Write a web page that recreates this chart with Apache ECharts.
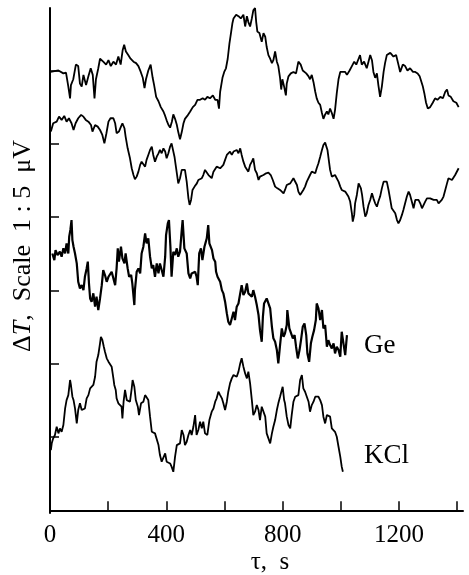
<!DOCTYPE html>
<html><head><meta charset="utf-8">
<script src="https://cdn.jsdelivr.net/npm/echarts@6/dist/echarts.min.js"></script>
<style>html,body{margin:0;padding:0;background:#fff}#c{width:469px;height:575px}</style>
</head><body><div id="c"></div>
<script>
// time, s  |  ΔT, μV (arbitrary offsets, scale 5 μV per tick)
const xTicks = [0, 200, 400, 600, 800, 1000, 1200, 1400];
const xLabels = [0, 400, 800, 1200];
const yTicks = [5, 10, 15, 20, 25, 30];

const trace1 = [[2,29.9],[29,30.0],[46,29.8],[55,29.85],[63,28.9],[69,28.1],[72,29.0],[80,29.4],[89,30.4],[97,30.3],[103,29.1],[109,28.9],[115,29.7],[124,29.0],[132,29.6],[140,30.15],[147,29.7],[153,28.1],[158,29.4],[166,30.15],[172,30.8],[183,30.6],[193,30.4],[201,30.7],[209,30.3],[218,30.6],[227,30.4],[235,30.95],[243,30.4],[250,31.4],[255,31.75],[261,31.3],[269,31.05],[277,30.8],[287,30.6],[296,30.5],[304,30.3],[312,29.9],[319,29.5],[325,28.8],[330,29.4],[338,30.0],[346,30.4],[353,29.5],[358,29.0],[365,28.2],[373,27.9],[381,27.5],[390,27.2],[396,26.9],[401,26.6],[407,26.3],[413,26.1],[419,26.5],[424,27.0],[430,26.7],[436,26.3],[441,25.8],[447,25.3],[453,25.8],[459,26.4],[464,26.7],[472,26.9],[482,27.2],[491,27.5],[499,27.65],[507,28.0],[516,28.0],[525,28.1],[533,28.0],[541,28.2],[550,28.1],[560,28.3],[568,28.0],[576,28.0],[581,27.4],[585,28.55],[593,29.5],[599,29.9],[605,30.15],[611,30.8],[617,31.85],[623,32.65],[627,33.2],[631,33.55],[640,33.8],[648,33.7],[656,33.55],[665,33.8],[671,33.0],[677,33.7],[682,33.3],[688,33.0],[694,33.55],[699,34.1],[705,34.25],[709,33.3],[713,32.65],[720,32.55],[728,31.95],[734,32.55],[740,32.3],[745,31.6],[751,31.05],[757,30.8],[763,30.5],[768,30.7],[774,31.3],[780,30.6],[785,30.3],[791,29.5],[795,28.7],[799,29.4],[805,28.9],[811,28.3],[814,29.1],[820,29.6],[828,29.8],[837,29.9],[846,29.8],[854,30.6],[862,30.4],[869,30.0],[874,29.9],[881,29.8],[889,29.6],[894,29.4],[900,29.7],[906,29.2],[912,28.55],[917,28.1],[923,27.8],[929,27.65],[935,27.1],[940,26.7],[946,27.0],[952,27.2],[957,27.0],[963,27.4],[969,27.1],[975,26.7],[980,27.3],[986,28.45],[992,29.4],[998,29.9],[1003,29.8],[1015,29.9],[1021,29.7],[1030,30.0],[1038,30.3],[1046,30.6],[1053,30.4],[1061,30.8],[1066,31.05],[1072,30.4],[1080,30.6],[1089,30.15],[1095,30.6],[1101,31.05],[1107,30.7],[1112,29.9],[1118,29.5],[1124,29.8],[1129,29.0],[1135,28.2],[1141,28.9],[1147,29.9],[1152,30.5],[1158,31.05],[1170,31.2],[1181,30.95],[1190,31.05],[1198,30.4],[1204,29.9],[1213,30.4],[1221,30.3],[1229,30.0],[1238,30.15],[1248,29.9],[1256,29.9],[1264,29.8],[1271,29.6],[1275,29.7],[1282,28.9],[1287,28.45],[1293,27.8],[1299,27.4],[1307,27.5],[1316,27.8],[1324,28.1],[1332,28.0],[1342,28.2],[1351,28.1],[1359,28.55],[1365,28.7],[1370,28.3],[1378,28.2],[1387,27.9],[1397,27.8],[1405,27.5]];

const trace2 = [[3,25.83],[11,26.4],[23,26.51],[31,26.85],[40,26.63],[49,26.9],[57,26.51],[65,26.74],[74,26.4],[81,25.94],[88,26.4],[97,26.74],[107,26.97],[115,26.85],[123,26.63],[132,26.51],[141,26.28],[146,25.83],[155,26.28],[164,26.17],[172,25.94],[180,25.6],[187,25.03],[194,25.72],[201,26.51],[208,26.74],[218,26.74],[224,26.4],[229,25.72],[237,25.83],[244,26.17],[249,26.4],[256,26.06],[260,25.49],[267,24.69],[275,24.01],[281,23.33],[287,22.87],[292,22.58],[298,22.76],[304,23.1],[310,23.56],[315,23.78],[321,23.67],[327,23.44],[332,23.9],[338,24.24],[344,24.58],[350,24.81],[355,24.24],[361,23.78],[367,24.12],[373,24.35],[378,24.58],[384,24.35],[390,24.69],[396,24.47],[401,24.01],[407,24.35],[413,24.81],[418,25.03],[424,24.92],[428,24.12],[432,23.56],[437,22.87],[441,22.3],[447,22.65],[453,23.22],[459,23.33],[464,23.22],[470,22.42],[476,21.28],[480,20.83],[485,21.17],[490,21.85],[497,22.08],[505,22.3],[510,22.53],[516,22.42],[522,22.65],[527,22.87],[533,23.22],[539,23.1],[545,22.87],[550,22.76],[556,22.65],[562,23.1],[567,23.22],[573,23.44],[579,23.56],[585,23.33],[590,23.44],[596,23.56],[602,23.9],[608,24.24],[613,24.35],[619,24.47],[625,24.24],[631,24.47],[636,24.47],[642,24.58],[648,24.35],[654,24.69],[659,24.24],[665,23.78],[671,23.44],[676,23.33],[682,23.1],[688,23.56],[694,23.78],[699,24.01],[705,23.22],[711,22.99],[717,22.53],[722,22.76],[728,22.65],[734,22.87],[743,22.99],[751,23.03],[759,22.87],[766,22.53],[774,22.08],[782,21.96],[791,21.85],[797,21.74],[803,21.62],[808,21.85],[814,22.19],[820,22.08],[826,22.3],[831,22.42],[837,22.65],[843,22.53],[849,22.19],[854,21.74],[860,21.51],[866,21.62],[871,21.85],[877,22.08],[883,22.42],[889,22.53],[894,22.87],[900,23.1],[906,23.22],[912,22.99],[917,23.33],[923,23.67],[929,24.12],[935,24.58],[940,24.92],[946,25.08],[949,25.03],[954,24.58],[957,24.12],[963,23.22],[969,22.76],[975,22.65],[980,22.87],[986,22.76],[992,22.42],[998,22.08],[1003,21.85],[1009,21.96],[1015,21.74],[1021,21.85],[1026,21.4],[1032,21.06],[1038,20.26],[1041,19.69],[1046,20.15],[1049,20.94],[1055,21.51],[1061,22.3],[1064,22.42],[1069,21.96],[1073,21.51],[1078,20.71],[1084,20.03],[1089,20.26],[1095,20.83],[1101,21.17],[1107,21.62],[1112,21.28],[1118,20.94],[1124,20.71],[1129,21.06],[1135,21.4],[1141,21.96],[1147,22.42],[1152,22.53],[1158,22.42],[1164,21.85],[1170,21.17],[1175,20.6],[1181,20.49],[1187,20.26],[1193,19.8],[1198,19.58],[1204,19.8],[1210,20.15],[1215,20.49],[1221,20.94],[1227,21.4],[1233,21.74],[1238,21.51],[1244,21.06],[1250,20.6],[1256,21.17],[1261,21.28],[1267,21.17],[1273,20.94],[1279,20.6],[1284,20.71],[1290,21.06],[1296,21.28],[1301,21.4],[1307,21.28],[1313,21.17],[1319,21.17],[1324,21.28],[1330,21.17],[1336,20.94],[1342,21.06],[1347,21.17],[1353,21.4],[1359,21.85],[1365,22.3],[1370,22.65],[1376,22.76],[1382,22.53],[1387,22.65],[1393,22.87],[1399,22.99],[1405,23.33]];

const traceGe = [[8,17.52],[15,17.07],[19,17.75],[26,17.41],[34,17.64],[40,17.3],[46,17.87],[52,17.52],[57,18.21],[63,17.52],[66,18.66],[70,19.12],[74,19.8],[77,18.43],[81,17.98],[86,17.52],[92,16.84],[97,15.59],[103,15.14],[109,15.36],[115,15.02],[120,15.93],[126,16.5],[130,16.96],[134,15.48],[138,14.45],[143,14.23],[149,14.8],[155,13.89],[160,14.57],[166,13.66],[172,14.45],[178,15.36],[183,16.39],[189,16.05],[195,15.59],[201,15.93],[206,15.82],[212,16.27],[218,16.39],[224,15.36],[229,16.5],[233,17.87],[237,16.96],[244,17.98],[249,17.18],[256,16.84],[260,17.52],[267,16.5],[272,15.93],[279,16.05],[283,15.48],[290,14.0],[292,15.02],[298,16.27],[304,16.5],[310,16.16],[315,17.52],[321,17.98],[327,18.89],[332,18.21],[338,18.55],[344,17.3],[350,16.5],[355,16.73],[361,15.93],[367,16.84],[373,16.16],[378,16.84],[384,16.39],[390,15.93],[396,17.3],[399,18.77],[405,19.57],[409,19.8],[414,17.98],[418,15.93],[424,17.64],[430,17.41],[436,17.87],[441,17.3],[447,17.64],[453,19.12],[456,19.8],[462,17.87],[470,17.52],[476,16.16],[482,15.82],[487,16.16],[493,16.05],[499,16.27],[504,15.93],[508,15.36],[513,17.52],[519,17.87],[524,17.07],[531,17.98],[539,18.55],[544,19.46],[548,18.21],[553,18.32],[557,17.75],[562,17.18],[568,16.96],[571,16.27],[576,15.93],[580,16.05],[585,15.59],[591,15.02],[596,14.8],[602,14.23],[608,13.43],[613,12.86],[619,12.64],[625,13.09],[631,13.55],[636,12.98],[642,13.89],[648,14.11],[654,14.8],[659,15.36],[665,14.68],[671,14.91],[677,15.48],[682,14.8],[688,14.91],[694,14.57],[699,15.02],[705,14.57],[711,14.0],[717,13.32],[722,12.29],[728,11.5],[732,13.2],[736,14.11],[742,14.0],[745,14.45],[751,14.11],[757,13.77],[763,12.52],[768,11.73],[774,11.5],[780,10.93],[785,10.02],[791,11.27],[797,12.41],[803,11.84],[808,12.07],[814,12.64],[816,13.66],[823,12.41],[828,12.52],[835,11.73],[841,11.95],[846,11.16],[852,10.36],[858,10.93],[863,11.61],[869,12.52],[875,12.75],[881,11.95],[885,10.7],[891,10.13],[897,11.39],[902,11.84],[908,12.29],[914,12.98],[917,14.11],[923,13.77],[929,12.98],[935,13.66],[940,12.41],[946,12.64],[952,11.16],[957,11.61],[963,11.27],[969,11.04],[975,11.39],[980,10.7],[986,11.16],[992,10.93],[998,10.48],[1003,12.18],[1009,11.39],[1015,10.59],[1021,11.95]];

const traceKCl = [[3,4.11],[6,4.57],[11,4.91],[17,5.14],[23,5.7],[29,5.25],[34,5.59],[40,5.36],[46,5.82],[52,6.95],[57,7.52],[63,7.86],[69,8.89],[72,8.55],[77,7.75],[81,7.52],[86,6.95],[92,5.93],[97,6.84],[103,7.3],[109,6.84],[115,6.73],[120,6.95],[126,7.64],[132,7.86],[138,8.32],[143,8.43],[149,8.55],[155,9.11],[160,10.14],[166,10.59],[172,11.39],[175,11.84],[180,11.62],[185,11.16],[189,10.82],[195,10.37],[201,10.14],[206,10.02],[212,9.8],[218,9.0],[221,8.55],[226,8.21],[229,7.64],[235,7.3],[241,7.41],[246,7.07],[249,6.27],[253,7.41],[258,8.21],[264,7.52],[269,7.64],[275,7.41],[281,8.32],[284,8.89],[290,8.43],[295,7.52],[302,7.07],[306,6.5],[313,7.3],[321,7.41],[327,7.86],[332,7.98],[338,7.52],[344,6.39],[350,5.36],[355,5.48],[361,5.25],[367,5.14],[373,4.45],[378,3.77],[384,3.32],[390,3.2],[396,3.89],[401,3.32],[407,3.2],[413,3.2],[418,2.98],[424,2.63],[430,3.66],[436,4.45],[441,4.57],[447,4.57],[453,5.48],[459,5.14],[464,4.45],[470,4.68],[476,5.14],[482,5.48],[487,5.14],[493,5.7],[499,6.5],[504,5.14],[510,5.48],[516,6.05],[522,5.59],[527,6.05],[533,5.25],[541,5.14],[548,6.16],[556,6.73],[562,6.95],[568,7.41],[573,7.64],[579,8.09],[585,7.86],[591,7.64],[596,7.3],[602,6.84],[608,7.41],[613,8.09],[619,8.66],[625,9.0],[631,9.23],[636,9.34],[642,9.11],[648,9.46],[654,10.02],[659,10.37],[665,9.8],[671,9.34],[677,9.0],[682,9.46],[688,8.66],[694,7.52],[699,6.5],[705,6.73],[711,7.18],[717,6.84],[722,6.16],[728,7.07],[734,6.95],[740,6.39],[745,5.25],[751,5.14],[757,4.57],[763,5.25],[768,5.7],[774,6.16],[780,6.84],[785,7.3],[791,7.75],[797,8.21],[800,8.43],[805,7.52],[808,7.3],[814,6.39],[820,5.82],[826,5.59],[831,6.5],[837,7.41],[843,7.75],[849,7.75],[854,7.86],[860,8.89],[866,9.23],[871,8.32],[877,8.09],[883,8.09],[889,7.41],[894,6.73],[900,7.18],[906,7.41],[912,7.75],[917,7.86],[923,7.75],[929,7.52],[935,7.18],[940,6.39],[946,5.93],[952,6.5],[957,6.61],[963,6.39],[969,5.59],[975,5.7],[980,5.36],[986,5.02],[992,4.34],[998,3.66],[1003,2.98],[1007,2.63]];

const seriesNames = ['upper', 'middle', 'Ge', 'KCl'];
const seriesData = [trace1, trace2, traceGe, traceKCl];

const FONT = '"Liberation Serif", "Times New Roman", serif';
const chart = echarts.init(document.getElementById('c'), null, {renderer: 'canvas'});
chart.setOption({
  animation: false,
  backgroundColor: '#fff',
  grid: {left: 50, right: 6, top: 8, bottom: 62, containLabel: false},
  xAxis: {
    type: 'value', min: 0, max: 1420,
    axisLine: {show: true, lineStyle: {color: '#000', width: 2}},
    axisTick: {show: true, inside: true, length: 9, customValues: xTicks, lineStyle: {color: '#000', width: 1.5}},
    axisLabel: {show: true, customValues: xLabels, color: '#000', fontFamily: FONT, fontSize: 25, margin: 10,
      formatter: v => String(v)},
    splitLine: {show: false}
  },
  yAxis: {
    type: 'value', min: -0.18, max: 34.26,
    axisLine: {show: true, lineStyle: {color: '#000', width: 2}},
    axisTick: {show: true, inside: true, length: 9, customValues: yTicks, lineStyle: {color: '#000', width: 1.5}},
    axisLabel: {show: false},
    splitLine: {show: false}
  },
  graphic: [
    {type: 'text', x: 23, y: 246, rotation: Math.PI / 2,
     style: {text: '{a|Δ}{i|T}{a|,  Scale  1 : 5  μV}', align: 'center', verticalAlign: 'middle',
       rich: {a: {fontFamily: FONT, fontSize: 26, fill: '#000'}, i: {fontFamily: FONT, fontSize: 26, fontStyle: 'italic', fill: '#000'}}}},
    {type: 'text', x: 270, y: 562, style: {text: 'τ,  s', font: '25px ' + FONT, fill: '#000', align: 'center', verticalAlign: 'middle'}},
    {type: 'text', x: 364, y: 346, style: {text: 'Ge', font: '27px ' + FONT, fill: '#000', align: 'left', verticalAlign: 'middle'}},
    {type: 'text', x: 364, y: 456, style: {text: 'KCl', font: '27px ' + FONT, fill: '#000', align: 'left', verticalAlign: 'middle'}}
  ],
  series: seriesData.map((d, i) => ({
    name: seriesNames[i], type: 'line', data: d, showSymbol: false, symbol: 'none',
    lineStyle: {color: '#000', width: i === 2 ? 2.2 : 1.8}, z: 3
  }))
});
</script>
</body></html>
